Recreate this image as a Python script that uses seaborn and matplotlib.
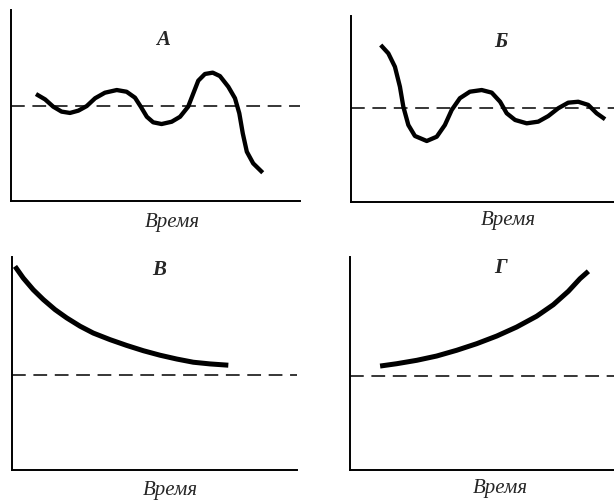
import matplotlib
matplotlib.use('Agg')
import matplotlib.pyplot as plt
import seaborn as sns
import pandas as pd

# ===[ Data: ]=================================================================
# coordinates are on a 0..100 scale inside every panel
panel_names = ['А', 'Б', 'В', 'Г']
x_label = 'Время'
baseline = [50, 50.5, 44.6, 44.1]

a_x = [8.65, 11.8, 14.6, 17.5, 20.4, 23.3, 26.2, 29.1, 32.5, 36.6, 40.0,
       42.9, 44.9, 47.0, 49.2, 52.1, 55.6, 58.5, 61.3, 63.1, 64.8, 67.1,
       69.8, 72.3, 75.2, 77.5, 79.0, 80.2, 81.6, 83.8, 87.1]
a_y = [56.0, 53.2, 49.4, 46.8, 46.1, 47.3, 49.7, 53.8, 56.7, 58.1, 57.2,
       54.1, 49.4, 44.1, 41.2, 40.3, 41.5, 44.1, 49.4, 56.4, 63.0, 66.5,
       67.2, 65.4, 59.8, 53.8, 45.9, 35.4, 25.8, 19.7, 14.8]

b_x = [11.3, 14.2, 16.7, 18.6, 19.9, 21.8, 24.3, 28.8, 32.6, 35.7, 38.3,
       41.4, 45.2, 49.7, 53.5, 56.7, 59.2, 62.4, 66.8, 71.2, 75.0, 78.8,
       82.6, 86.4, 90.2, 93.4, 96.6]
b_y = [84.4, 79.9, 72.7, 62.0, 51.2, 41.4, 35.5, 32.8, 35.1, 41.4, 49.5,
       55.8, 59.3, 60.2, 58.8, 53.9, 47.7, 44.1, 42.3, 43.2, 46.2, 50.4,
       53.4, 53.9, 52.2, 47.7, 44.5]

v_x = [1.05, 3.96, 7.47, 11.0, 15.1, 19.2, 23.9, 28.5, 34.4, 40.2, 46.1,
       51.9, 57.8, 63.6, 69.5, 75.9]
v_y = [95.6, 90.1, 84.6, 80.0, 75.3, 71.4, 67.5, 64.3, 61.2, 58.5, 56.0,
       53.9, 52.1, 50.6, 49.8, 49.2]

g_x = [11.4, 17.7, 25.3, 32.8, 40.4, 48.0, 55.6, 63.1, 70.7, 77.0, 82.7,
       87.1, 90.3]
g_y = [48.8, 49.9, 51.5, 53.5, 56.2, 59.3, 62.9, 67.1, 72.2, 77.6, 83.9,
       89.8, 93.3]

curves = [(a_x, a_y), (b_x, b_y), (v_x, v_y), (g_x, g_y)]


# ===[ Main: ]=================================================================
def main():
    sns.set_style('white')
    plt.rcParams['font.family'] = ['Liberation Serif', 'DejaVu Serif']

    fig = plt.figure(figsize=(6.14, 5.0), dpi=100)
    # panel boxes in pixels: left, top, right, bottom
    boxes = [(11, 10, 300, 201), (351, 16, 614, 202),
             (12, 257, 297, 470), (350, 257, 614, 470)]
    name_pos = [(0.526, 0.843), (0.57, 0.86), (0.516, 0.94), (0.572, 0.948)]
    lab_pos = [(0.56, -0.11), (0.597, -0.097), (0.554, -0.094), (0.568, -0.085)]
    widths = [3.1, 3.1, 3.6, 3.6]

    for i, (l, t, r, b) in enumerate(boxes):
        ax = fig.add_axes([l / 614, (500 - b) / 500, (r - l) / 614, (b - t) / 500])
        xs, ys = curves[i]
        df = pd.DataFrame({'t': xs, 'v': ys})
        sns.lineplot(data=df, x='t', y='v', sort=False, ax=ax,
                     color='black', linewidth=widths[i], solid_capstyle='butt',
                     solid_joinstyle='round')
        ax.axhline(baseline[i], color='black', linewidth=1.1,
                   linestyle=(0, (9, 5)))
        ax.set_xlim(0, 100)
        ax.set_ylim(0, 100)
        ax.set_xticks([])
        ax.set_yticks([])
        ax.set_ylabel('')
        for s in ['top', 'right']:
            ax.spines[s].set_visible(False)
        for s in ['left', 'bottom']:
            ax.spines[s].set_color('black')
            ax.spines[s].set_linewidth(1.4)
        ax.set_xlabel(x_label, fontsize=15, style='italic', va='center')
        ax.xaxis.set_label_coords(*lab_pos[i])
        ax.text(name_pos[i][0], name_pos[i][1], panel_names[i],
                transform=ax.transAxes, fontsize=15, fontweight='bold',
                style='italic', ha='center', va='center')

    fig.savefig('out.png', dpi=100)


if __name__ == '__main__':
    main()
